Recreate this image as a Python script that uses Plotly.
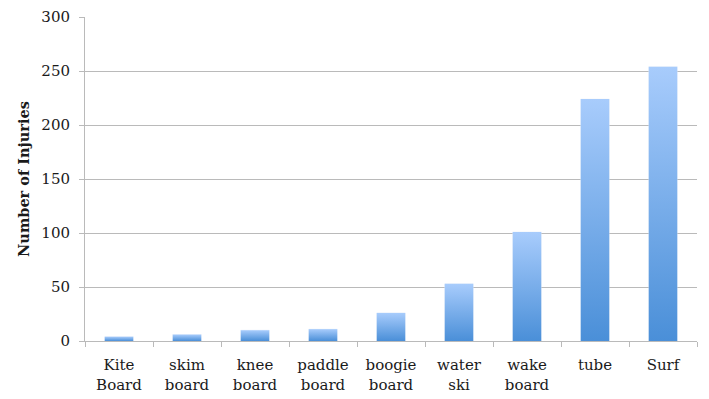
import plotly.graph_objects as go

categories = ["Kite<br>Board", "skim<br>board", "knee<br>board", "paddle<br>board",
              "boogie<br>board", "water<br>ski", "wake<br>board", "tube", "Surf"]
injuries = [4, 6, 10, 11, 26, 53, 101, 224, 254]
y_ticks = [0, 50, 100, 150, 200, 250, 300]

BAR_HALF = 0.21
TOP_COLOR = "#a8ccfc"
BOTTOM_COLOR = "#4a8fd8"
GRID = "#bababa"
TEXT = "#1a1a1a"
FONT = "DejaVu Serif"

fig = go.Figure()

# category bar trace (transparent, defines the category axis & hover)
fig.add_trace(go.Bar(x=categories, y=injuries, marker_color="rgba(0,0,0,0)",
                     width=2 * BAR_HALF, showlegend=False))

# gradient-filled bars on an overlaid numeric axis
for i, v in enumerate(injuries):
    fig.add_trace(go.Scatter(
        x=[i - BAR_HALF, i + BAR_HALF, i + BAR_HALF, i - BAR_HALF, i - BAR_HALF],
        y=[0, 0, v, v, 0],
        mode="lines", line=dict(width=0), fill="toself",
        fillgradient=dict(type="vertical",
                          colorscale=[[0, BOTTOM_COLOR], [1, TOP_COLOR]]),
        xaxis="x2", yaxis="y", hoverinfo="skip", showlegend=False))

fig.update_layout(
    width=709, height=399,
    margin=dict(l=85, r=12, t=17, b=58, autoexpand=False),
    paper_bgcolor="white", plot_bgcolor="white",
    font=dict(family=FONT, size=15, color=TEXT),
    showlegend=False,
    xaxis=dict(type="category", tickson="boundaries", ticks="outside", ticklen=5,
               tickcolor=GRID, showline=True, linecolor=GRID, linewidth=1,
               showgrid=False, range=[-0.5, 8.5], ticklabelstandoff=10,
               tickfont=dict(size=15, family=FONT, color=TEXT)),
    xaxis2=dict(overlaying="x", range=[-0.5, 8.5], visible=False, fixedrange=True),
    yaxis=dict(range=[0, 300], tickvals=y_ticks, ticks="outside", ticklen=5,
               tickcolor=GRID, showline=True, linecolor=GRID, linewidth=1,
               showgrid=True, gridcolor=GRID, gridwidth=1, zeroline=False,
               tickfont=dict(size=15, family=FONT, color=TEXT), ticklabelstandoff=6,
               title=dict(text="<b>Number of Injuries</b>", font=dict(size=14.5, family=FONT, color=TEXT),
                          standoff=8)),
)

fig.write_html("out.html", config={"displayModeBar": False},
               post_script="document.body.style.margin='0';")
